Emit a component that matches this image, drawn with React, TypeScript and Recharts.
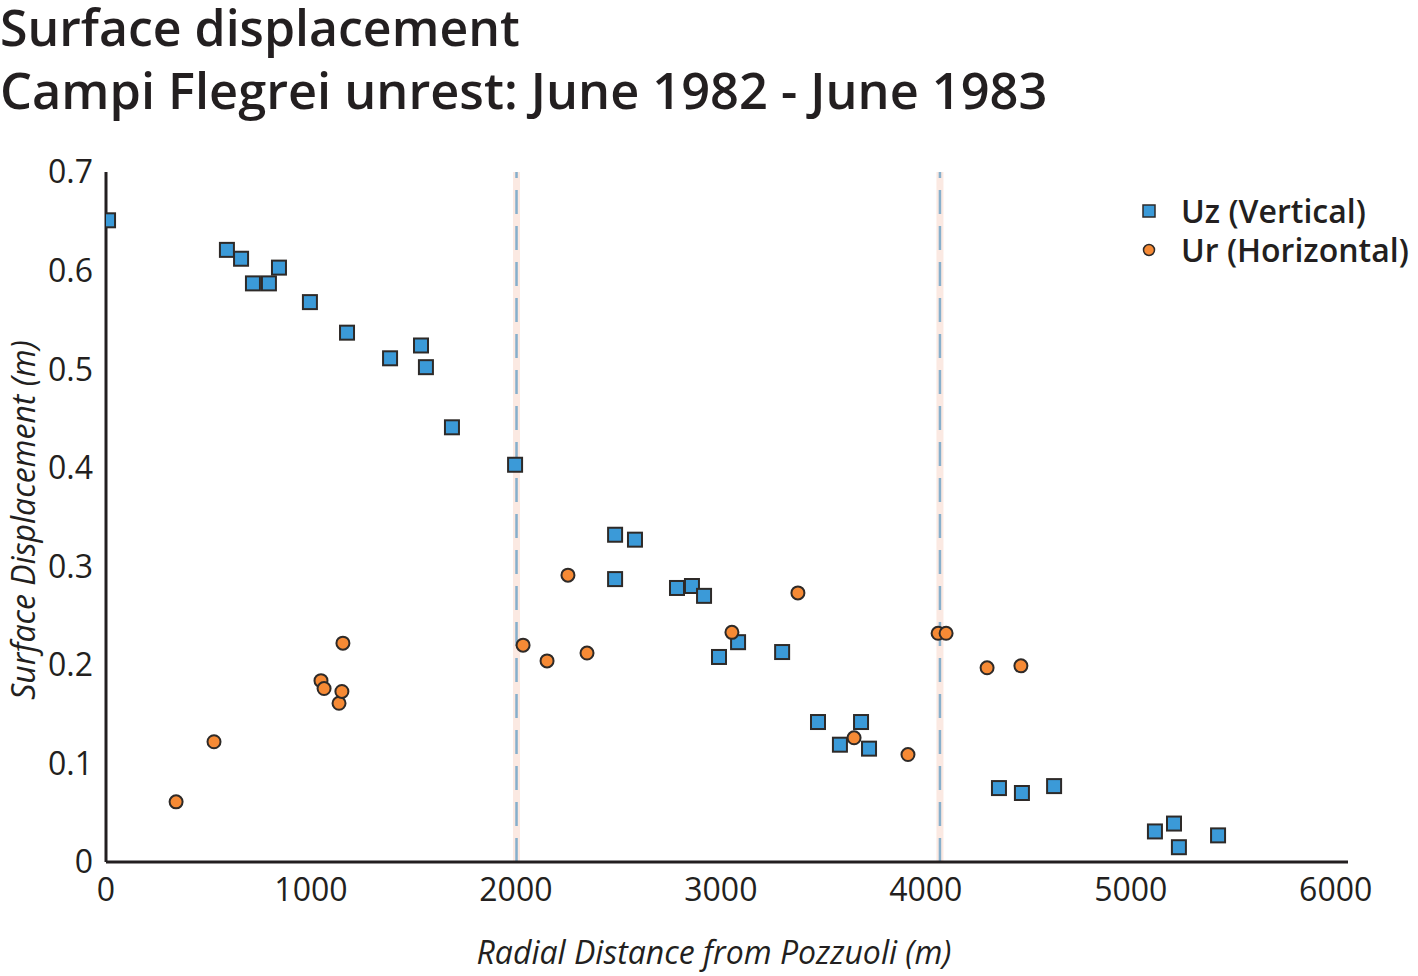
import React from "react";
import { ScatterChart, Scatter, XAxis, YAxis, ReferenceLine, Legend } from "recharts";

// Uz (vertical) displacement
const uzDistance = [10, 590, 659, 717, 795, 844, 995, 1176, 1386, 1537, 1561, 1688, 1996, 2484, 2581, 2484, 2786, 2859, 2918, 2991, 3084, 3299, 3474, 3581, 3684, 3723, 4357, 4469, 4626, 5118, 5211, 5235, 5426];
const uzValue = [0.651, 0.621, 0.612, 0.587, 0.587, 0.603, 0.568, 0.537, 0.511, 0.524, 0.502, 0.441, 0.403, 0.332, 0.327, 0.287, 0.278, 0.28, 0.27, 0.208, 0.223, 0.213, 0.142, 0.119, 0.142, 0.115, 0.075, 0.07, 0.077, 0.031, 0.039, 0.015, 0.027];

// Ur (horizontal) displacement
const urDistance = [342, 527, 1049, 1064, 1137, 1151, 1156, 2035, 2152, 2254, 2347, 3054, 3376, 3650, 3913, 4060, 4099, 4299, 4464];
const urValue = [0.061, 0.122, 0.184, 0.176, 0.161, 0.173, 0.222, 0.22, 0.204, 0.291, 0.212, 0.233, 0.273, 0.126, 0.109, 0.232, 0.232, 0.197, 0.199];

const xTicks = [0, 1000, 2000, 3000, 4000, 5000, 6000];
const yTicks = [0, 0.1, 0.2, 0.3, 0.4, 0.5, 0.6, 0.7];
const refLines = [2003, 4069];

const seriesNames = ["Uz (Vertical)", "Ur (Horizontal)"];
const titleLines = ["Surface displacement", "Campi Flegrei unrest: June 1982 - June 1983"];
const xLabel = "Radial Distance from Pozzuoli (m)";
const yLabel = "Surface Displacement (m)";

const uzData = uzDistance.map((x, i) => ({ x, y: uzValue[i] }));
const urData = urDistance.map((x, i) => ({ x, y: urValue[i] }));

const FONT = "'Open Sans', sans-serif";
const TEXT = "#231f20";
const BLUE = "#3b9ad8";
const ORANGE = "#f68a35";
const EDGE = "#2e2a28";

const SquareShape = (p: any) => (
  <rect x={p.cx - 7} y={p.cy - 7} width={14} height={14} fill={BLUE} stroke={EDGE} strokeWidth={2} />
);
const CircleShape = (p: any) => (
  <circle cx={p.cx} cy={p.cy} r={6.5} fill={ORANGE} stroke={EDGE} strokeWidth={2} />
);

const LegendContent = () => (
  <div style={{ fontFamily: FONT, fontWeight: 600, fontSize: 32, color: TEXT, lineHeight: "39px", textAlign: "left" }}>
    <div style={{ display: "flex", alignItems: "center", height: 39 }}>
      <svg width={32} height={20}>
        <rect x={9} y={4} width={12} height={12} fill={BLUE} stroke={EDGE} strokeWidth={1.5} />
      </svg>
      <span style={{ marginLeft: 15 }}>{seriesNames[0]}</span>
    </div>
    <div style={{ display: "flex", alignItems: "center", height: 39 }}>
      <svg width={32} height={20}>
        <circle cx={15} cy={10} r={5.5} fill={ORANGE} stroke={EDGE} strokeWidth={1.5} />
      </svg>
      <span style={{ marginLeft: 15 }}>{seriesNames[1]}</span>
    </div>
  </div>
);

export default function App() {
  return (
    <div style={{ position: "absolute", left: 0, top: 0, width: 1418, height: 976, background: "#fff" }}>
      <style>{`body{margin:0;background:#fff}`}</style>
      <div style={{ position: "absolute", left: 0, top: 0 }}>
        <ScatterChart width={1418} height={976} margin={{ top: 172, right: 70, bottom: 0, left: 0 }}>
          {refLines.map((v) => (
            <ReferenceLine key={"h" + v} x={v} stroke="#fbe9e2" strokeWidth={7} />
          ))}
          {refLines.map((v) => (
            <ReferenceLine key={"d" + v} x={v} stroke="#86afcc" strokeWidth={2.5} strokeDasharray="24 12" />
          ))}
          <XAxis
            type="number"
            dataKey="x"
            domain={[0, 6060]}
            ticks={xTicks}
            allowDataOverflow
            height={114}
            tickSize={0}
            tickMargin={16}
            axisLine={{ stroke: TEXT, strokeWidth: 3 }}
            tickLine={false}
            tick={{ fontFamily: FONT, fontSize: 32, fill: TEXT }}
            label={{ value: xLabel, position: "insideBottom", offset: 12, dx: -13, fontFamily: FONT, fontStyle: "italic", fontSize: 32, fill: TEXT }}
          />
          <YAxis
            type="number"
            dataKey="y"
            domain={[0, 0.7]}
            ticks={yTicks}
            width={106}
            tickSize={0}
            tickMargin={13}
            axisLine={{ stroke: TEXT, strokeWidth: 3 }}
            tickLine={false}
            tickFormatter={(v: number) => (v === 0 ? "0" : v.toFixed(1))}
            tick={{ fontFamily: FONT, fontSize: 32, fill: TEXT }}
          />
          <Legend
            verticalAlign="middle"
            align="center"
            layout="vertical"
            content={LegendContent}
            wrapperStyle={{ position: "absolute", top: 191, left: 1134, width: 290, height: 80 }}
          />
          <Scatter name={seriesNames[0]} data={uzData} shape={SquareShape} isAnimationActive={false} />
          <Scatter name={seriesNames[1]} data={urData} shape={CircleShape} isAnimationActive={false} />
        </ScatterChart>
      </div>
      <svg width={1418} height={976} style={{ position: "absolute", left: 0, top: 0, pointerEvents: "none" }}>
        <text x={0} y={46} fontFamily={FONT} fontWeight={600} fontSize={50} fill={TEXT}>{titleLines[0]}</text>
        <text x={0} y={109} fontFamily={FONT} fontWeight={600} fontSize={50.5} fill={TEXT}>{titleLines[1]}</text>
        <text
          x={0}
          y={0}
          transform="translate(35, 520) rotate(-90)"
          textAnchor="middle"
          fontFamily={FONT}
          fontStyle="italic"
          fontSize={32}
          fill={TEXT}
        >
          {yLabel}
        </text>
      </svg>
    </div>
  );
}
